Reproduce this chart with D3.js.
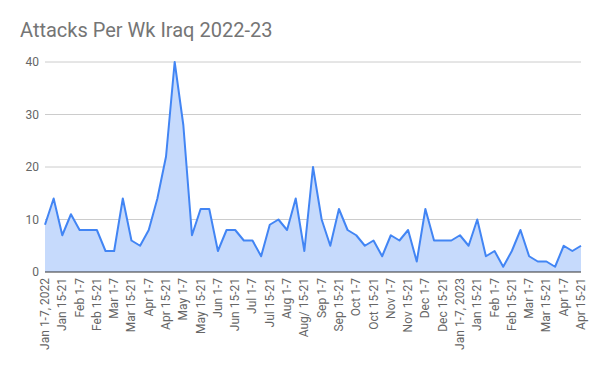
<!DOCTYPE html>
<html>
<head>
<meta charset="utf-8">
<script src="https://cdn.jsdelivr.net/npm/d3@7"></script>
<style>
  body { margin: 0; background: #fff; }
  svg { display: block; font-family: Roboto, Arial, sans-serif; }
</style>
</head>
<body>
<svg id="chart" width="600" height="371"></svg>
<script>
// Weekly attacks, Jan 2022 - Apr 2023 (4 buckets per month)
const attacks = [
    9, 14, 7, 11, 8, 8, 8, 4, 4, 14, 6, 5, 8, 14, 22, 40,
    28, 7, 12, 12, 4, 8, 8, 6, 6, 3, 9, 10, 8, 14, 4, 20,
    10, 5, 12, 8, 7, 5, 6, 3, 7, 6, 8, 2, 12, 6, 6, 6,
    7, 5, 10, 3, 4, 1, 4, 8, 3, 2, 2, 1, 5, 4, 5
];

// shown every other week; a couple carry the year / a typo from the sheet
const tickLabels = [
    'Jan 1-7, 2022', 'Jan 15-21', 'Feb 1-7', 'Feb 15-21', 'Mar 1-7', 'Mar 15-21',
    'Apr 1-7', 'Apr 15-21', 'May 1-7', 'May 15-21', 'Jun 1-7', 'Jun 15-21',
    'Jul 1-7', 'Jul 15-21', 'Aug 1-7', 'Aug/ 15-21', 'Sep 1-7', 'Sep 15-21',
    'Oct 1-7', 'Oct 15-21', 'Nov 1-7', 'Nov 15-21', 'Dec 1-7', 'Dec 15-21',
    'Jan 1-7, 2023', 'Jan 15-21', 'Feb 1-7', 'Feb 15-21', 'Mar 1-7', 'Mar 15-21',
    'Apr 1-7', 'Apr 15-21'
];

const yTicks = [0, 10, 20, 30, 40];

const categories = attacks.map((_, i) => i);

const margin = { top: 62, right: 19, bottom: 99, left: 45 };
const width = 600 - margin.left - margin.right;
const height = 371 - margin.top - margin.bottom;

const svg = d3.select('#chart');

svg.append('text')
    .attr('x', 20)
    .attr('y', 37)
    .attr('font-size', '20px')
    .attr('fill', '#757575')
    .text('Attacks Per Wk Iraq 2022-23');

const g = svg.append('g')
    .attr('transform', `translate(${margin.left},${margin.top})`);

const x = d3.scalePoint()
    .domain(categories)
    .range([0, width]);

const y = d3.scaleLinear()
    .domain([0, 40])
    .range([height, 0]);

// gridlines + y labels
yTicks.forEach(t => {
    if (t > 0) {
        g.append('line')
            .attr('x1', 0)
            .attr('x2', width)
            .attr('y1', y(t))
            .attr('y2', y(t))
            .attr('stroke', '#cccccc')
            .attr('stroke-width', 1);
    }
    g.append('text')
        .attr('x', -6)
        .attr('y', y(t))
        .attr('dy', '0.35em')
        .attr('text-anchor', 'end')
        .attr('font-size', '12px')
        .attr('fill', '#666')
        .text(t);
});

const area = d3.area()
    .x((d, i) => x(i))
    .y0(y(0))
    .y1(d => y(d));

const line = d3.line()
    .x((d, i) => x(i))
    .y(d => y(d));

g.append('path')
    .datum(attacks)
    .attr('fill', '#c6dafc')
    .attr('d', area);

g.append('path')
    .datum(attacks)
    .attr('fill', 'none')
    .attr('stroke', '#4285f4')
    .attr('stroke-width', 2)
    .attr('stroke-linejoin', 'round')
    .attr('d', line);

// baseline
g.append('line')
    .attr('x1', 0)
    .attr('x2', width)
    .attr('y1', y(0))
    .attr('y2', y(0))
    .attr('stroke', '#333')
    .attr('stroke-width', 1);

// x labels, every other category
tickLabels.forEach((label, k) => {
    const cx = x(k * 2);
    g.append('text')
        .attr('transform', `translate(${cx + 4},${height + 6}) rotate(-90)`)
        .attr('text-anchor', 'end')
        .attr('font-size', '12px')
        .attr('fill', '#666')
        .text(label);
});
</script>
</body>
</html>
